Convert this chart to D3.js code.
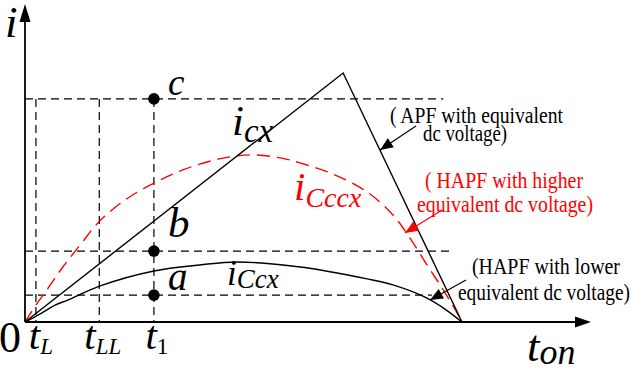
<!DOCTYPE html>
<html>
<head>
<meta charset="utf-8">
<script src="https://cdn.jsdelivr.net/npm/d3@7"></script>
<style>
  html, body { margin: 0; padding: 0; background: #fff; }
  svg { display: block; }
  svg text { font-family: "Liberation Serif", "Times New Roman", Times, serif; }
</style>
</head>
<body>
<script>
// Switching-interval time marks (interval normalised so the current returns to zero at 100)
const tickMain = ["t", "t", "t"];
const tickSub = ["L", "LL", "1"];
const tickTimes = [2.5, 17, 29.5];

// Current levels reached at t1 (percent of the APF peak current)
const levelNames = ["c", "b", "a"];
const levelValues = [89.6, 28.5, 10.8];

// APF with equivalent dc voltage: triangular current
const apfCurrent = [[0, 0], [72.8, 100], [100, 0]];

// HAPF with higher equivalent dc voltage
const hapfHighCurrent = [
  [0, 0], [2.5, 6.8], [5.0, 12.9], [8.5, 21.7], [12.6, 30.9], [16.9, 40.2],
  [22.9, 49.0], [29.5, 55.8], [36.6, 61.4], [44.2, 65.4], [51.5, 67.1],
  [58.4, 65.9], [62.9, 63.9], [70.5, 59.4], [78.3, 52.2], [84.2, 43.0],
  [88.1, 33.7], [92.0, 22.9], [95.7, 12.9], [98.9, 3.6], [100, 0]
];

// HAPF with lower equivalent dc voltage
const hapfLowCurrent = [
  [0, 0], [3.4, 3.2], [6.9, 6.8], [9.8, 8.8], [17.2, 14.5], [29.5, 20.5],
  [40.0, 22.9], [48.5, 24.1], [63.0, 22.1], [78.3, 17.3], [84.2, 14.9],
  [92.0, 9.6], [96.1, 5.2], [100, 0]
];

const W = 635, H = 369;

const svg = d3.select("body").append("svg")
  .attr("width", W).attr("height", H)
  .attr("viewBox", `0 0 ${W} ${H}`);

const x = d3.scaleLinear().domain([0, 100]).range([25, 462]);
const y = d3.scaleLinear().domain([0, 100]).range([322, 73]);

const x0 = x(0), y0 = y(0);

// ---- helper: filled arrow head ----
function arrowHead(g, tipX, tipY, fromX, fromY, len, half, color) {
  const a = Math.atan2(tipY - fromY, tipX - fromX);
  const bx = tipX - len * Math.cos(a), by = tipY - len * Math.sin(a);
  const px = -Math.sin(a) * half, py = Math.cos(a) * half;
  g.append("path")
    .attr("d", `M${tipX},${tipY}L${bx + px},${by + py}L${bx - px},${by - py}Z`)
    .attr("fill", color);
}

function arrow(g, fromX, fromY, tipX, tipY, color) {
  g.append("line")
    .attr("x1", fromX).attr("y1", fromY).attr("x2", tipX).attr("y2", tipY)
    .attr("stroke", color).attr("stroke-width", 1.2);
  arrowHead(g, tipX, tipY, fromX, fromY, 13, 5.5, color);
}

// ---- helper: italic symbol with subscript ----
function symbol(g, px, py, main, sub, o) {
  const t = g.append("text")
    .attr("x", px).attr("y", py)
    .attr("fill", o.color || "#000")
    .attr("text-anchor", o.anchor || "start");
  t.append("tspan")
    .style("font-style", "italic")
    .style("font-size", o.fs + "px")
    .text(main);
  if (sub) {
    t.append("tspan")
      .style("font-size", o.fsSub + "px")
      .attr("dx", o.subDx || 0)
      .attr("dy", o.subDy || 0)
      .style("font-style", /^\d+$/.test(sub) ? "normal" : "italic")
      .text(sub);
  }
  return t;
}

// ---- dashed guide lines ----
const guides = svg.append("g")
  .attr("stroke", "#000").attr("stroke-width", 1.2)
  .attr("stroke-dasharray", "8,5").attr("fill", "none");

const guideEnds = [95.7, 97.3, 93.1];
levelValues.forEach((v, i) => {
  guides.append("line")
    .attr("x1", x0).attr("x2", x(guideEnds[i]))
    .attr("y1", y(v)).attr("y2", y(v));
});
tickTimes.forEach(t => {
  guides.append("line")
    .attr("x1", x(t)).attr("x2", x(t))
    .attr("y1", y(levelValues[0])).attr("y2", y0);
});

// ---- current curves ----
const line = d3.line().x(d => x(d[0])).y(d => y(d[1]));
const smooth = d3.line().x(d => x(d[0])).y(d => y(d[1])).curve(d3.curveCatmullRom.alpha(0.5));

svg.append("path")
  .attr("d", smooth(hapfHighCurrent))
  .attr("fill", "none").attr("stroke", "#ff0000")
  .attr("stroke-width", 1.4).attr("stroke-dasharray", "13,7");

svg.append("path")
  .attr("d", smooth(hapfLowCurrent))
  .attr("fill", "none").attr("stroke", "#000").attr("stroke-width", 1.4);

svg.append("path")
  .attr("d", line(apfCurrent))
  .attr("fill", "none").attr("stroke", "#000").attr("stroke-width", 1.4);

// ---- axes ----
const axes = svg.append("g");
axes.append("line")
  .attr("x1", x0).attr("y1", y0).attr("x2", 578).attr("y2", y0)
  .attr("stroke", "#000").attr("stroke-width", 1.8);
arrowHead(axes, 591, y0, x0, y0, 16, 5.5, "#000");
axes.append("line")
  .attr("x1", x0).attr("y1", y0).attr("x2", x0).attr("y2", 20)
  .attr("stroke", "#000").attr("stroke-width", 1.8);
arrowHead(axes, x0, 4, x0, y0, 18, 5.5, "#000");

// ---- level dots at t1 ----
svg.append("g").selectAll("circle")
  .data(levelValues)
  .join("circle")
  .attr("cx", x(tickTimes[2]))
  .attr("cy", d => y(d))
  .attr("r", 5.8)
  .attr("fill", "#000");

// ---- level letters ----
const levelFs = [37, 43, 39];
const levelDy = [-4, -14, -5];
levelNames.forEach((n, i) => {
  svg.append("text")
    .attr("x", x(tickTimes[2]) + 14)
    .attr("y", y(levelValues[i]) + levelDy[i])
    .style("font-style", "italic")
    .style("font-size", levelFs[i] + "px")
    .text(n);
});

// ---- axis labels ----
symbol(svg, 5, 37, "i", null, { fs: 45 });
svg.append("text")
  .attr("x", -1).attr("y", 352)
  .style("font-size", "44px")
  .text("0");

const tickOffset = [5, 3.5, 3];
tickTimes.forEach((t, i) => {
  symbol(svg, x(t) + tickOffset[i], 349, tickMain[i], tickSub[i],
    { fs: 41, fsSub: 23, subDy: 5, anchor: "middle" });
});

symbol(svg, 527, 361, "t", "on", { fs: 45, fsSub: 36, subDy: 3 });

// ---- curve names ----
symbol(svg, 232, 135, "i", "cx", { fs: 43, fsSub: 33, subDy: 7 });
symbol(svg, 294, 200, "i", "Cccx", { fs: 41, fsSub: 28, subDy: 7, color: "#ff0000" });
symbol(svg, 227, 285, "i", "Ccx", { fs: 35, fsSub: 27, subDy: 3 });

// ---- notes ----
function note(px, py, str, len, color) {
  svg.append("text")
    .attr("x", px).attr("y", py)
    .style("font-size", "24px")
    .attr("fill", color)
    .attr("textLength", len).attr("lengthAdjust", "spacingAndGlyphs")
    .text(str);
}
note(390, 123, "( APF with equivalent", 173, "#000");
note(423, 141, "dc voltage)", 84, "#000");
note(425, 188, "( HAPF with higher", 158, "#ff0000");
note(417, 212, "equivalent dc voltage)", 176, "#ff0000");
note(472, 274, "(HAPF with lower", 148, "#000");
note(458, 300, "equivalent dc voltage)", 172, "#000");

arrow(svg, 416, 126, 380, 150, "#000");
arrow(svg, 442, 210, 405, 233, "#ff0000");
arrow(svg, 466, 280, 430, 300, "#000");
</script>
</body>
</html>
